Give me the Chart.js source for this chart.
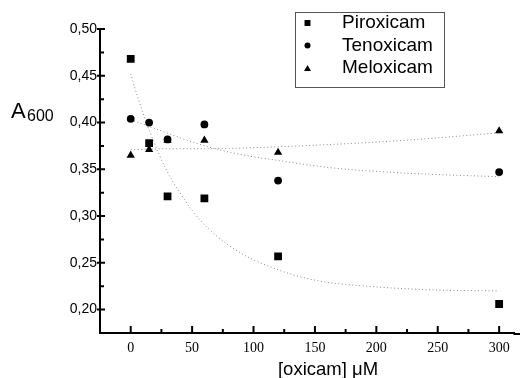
<!DOCTYPE html>
<html>
<head>
<meta charset="utf-8">
<script src="https://cdn.jsdelivr.net/npm/chart.js@4.4.0/dist/chart.umd.min.js"></script>
<style>
html, body { margin: 0; padding: 0; background: #fff; overflow: hidden; }
</style>
</head>
<body>
<canvas id="chart" width="520" height="378"></canvas>
<script>
// measured points
const conc = [0, 15, 30, 60, 120, 300];
const piroxicam = [0.468, 0.378, 0.321, 0.319, 0.257, 0.206];
const tenoxicam = [0.404, 0.400, 0.382, 0.398, 0.338, 0.347];
const meloxicam = [0.365, 0.371, 0.381, 0.381, 0.368, 0.391];

// dotted fit curves
const piroxFitX = [0, 7, 15, 28, 40, 57, 84, 117, 152, 193, 247, 300];
const piroxFitY = [0.452, 0.422, 0.392, 0.352, 0.325, 0.295, 0.265, 0.244, 0.231, 0.225, 0.221, 0.220];
const tenoxFitX = [0, 23, 53, 85, 117, 168, 223, 300];
const tenoxFitY = [0.403, 0.392, 0.378, 0.367, 0.360, 0.351, 0.346, 0.342];
const meloxFitX = [0, 30, 60, 118, 170, 223, 300];
const meloxFitY = [0.371, 0.372, 0.372, 0.374, 0.377, 0.381, 0.389];

const xTicks = [0, 50, 100, 150, 200, 250, 300];
const xMinor = [25, 75, 125, 175, 225, 275];
const yTicks = [0.20, 0.25, 0.30, 0.35, 0.40, 0.45, 0.50];
const yMinor = [0.225, 0.275, 0.325, 0.375, 0.425, 0.475];

const pts = (xs, ys) => xs.map((v, i) => ({ x: v, y: ys[i] }));

function markers(label, ys, style, radius, legendRadius) {
    return {
        label: label,
        data: pts(conc, ys),
        pointStyle: style,
        pointRadius: radius,
        pointBackgroundColor: '#000',
        pointBorderWidth: 0,
        legendRadius: legendRadius,
        order: 1
    };
}

function fit(xs, ys) {
    return {
        data: pts(xs, ys),
        showLine: true,
        borderColor: '#8a8a8a',
        borderWidth: 1,
        borderDash: [1, 2.5],
        cubicInterpolationMode: 'monotone',
        pointRadius: 0,
        order: 2
    };
}

const extras = {
    id: 'extras',
    afterDraw(chart) {
        const { ctx, chartArea, scales: { x, y } } = chart;
        ctx.save();
        ctx.strokeStyle = '#000';
        ctx.lineWidth = 2;
        ctx.beginPath();
        // axis line runs on to the edge of the picture
        ctx.moveTo(chartArea.right - 1, chartArea.bottom + 1); ctx.lineTo(chart.width, chartArea.bottom + 1);
        xTicks.forEach(v => {
            const px = x.getPixelForValue(v);
            ctx.moveTo(px, chartArea.bottom); ctx.lineTo(px, chartArea.bottom - 7);
        });
        xMinor.forEach(v => {
            const px = x.getPixelForValue(v);
            ctx.moveTo(px, chartArea.bottom); ctx.lineTo(px, chartArea.bottom - 4);
        });
        yTicks.forEach(v => {
            const py = y.getPixelForValue(v);
            ctx.moveTo(chartArea.left - 3, py); ctx.lineTo(chartArea.left + 5, py);
        });
        yMinor.forEach(v => {
            const py = y.getPixelForValue(v);
            ctx.moveTo(chartArea.left, py); ctx.lineTo(chartArea.left + 4, py);
        });
        ctx.stroke();

        // legend box
        ctx.lineWidth = 1;
        ctx.strokeStyle = '#555';
        ctx.strokeRect(295.5, 12.5, 149, 75);
        const rows = [23, 45.5, 68];
        const sets = chart.data.datasets.filter(d => d.label);
        ctx.font = '19px "Liberation Sans", Arial, sans-serif';
        ctx.textBaseline = 'middle';
        ctx.textAlign = 'left';
        sets.forEach((d, i) => {
            ctx.fillStyle = '#000';
            Chart.helpers.drawPoint(ctx, { pointStyle: d.pointStyle, radius: d.legendRadius, rotation: 0, borderWidth: 0 }, 307.5, rows[i] + (d.pointStyle === 'triangle' ? 1 : 0));
            ctx.fillText(d.label, 342, rows[i]);
        });

        // axis titles
        ctx.textBaseline = 'alphabetic';
        ctx.font = '22px "Liberation Sans", Arial, sans-serif';
        ctx.fillText('A', 11, 118);
        ctx.font = '16px "Liberation Sans", Arial, sans-serif';
        ctx.fillText('600', 27, 121);
        ctx.font = '18.5px "Liberation Sans", Arial, sans-serif';
        ctx.textAlign = 'center';
        ctx.fillText('[oxicam] \u03bcM', 328, 375);
        ctx.restore();
    }
};

new Chart(document.getElementById('chart').getContext('2d'), {
    type: 'scatter',
    data: {
        datasets: [
            markers('Piroxicam', piroxicam, 'rect', 5.5, 4.2),
            markers('Tenoxicam', tenoxicam, 'circle', 3.9, 3),
            markers('Meloxicam', meloxicam, 'triangle', 4.8, 4),
            fit(piroxFitX, piroxFitY),
            fit(tenoxFitX, tenoxFitY),
            fit(meloxFitX, meloxFitY)
        ]
    },
    options: {
        responsive: false,
        animation: false,
        events: [],
        layout: { padding: { top: 29, right: 0, bottom: 0, left: 0 } },
        plugins: { legend: { display: false }, tooltip: { enabled: false } },
        scales: {
            x: {
                type: 'linear',
                min: -25,
                max: 312.5,
                afterFit: s => { s.height = 45; },
                afterBuildTicks: s => { s.ticks = xTicks.map(v => ({ value: v })); },
                grid: { display: false, drawTicks: false },
                border: { display: true, color: '#000', width: 2 },
                ticks: {
                    color: '#000',
                    padding: 7,
                    maxRotation: 0,
                    autoSkip: false,
                    font: { family: '"Liberation Serif", "Times New Roman", serif', size: 14 }
                }
            },
            y: {
                min: 0.175,
                max: 0.50,
                afterFit: s => { s.width = 100; },
                afterBuildTicks: s => { s.ticks = yTicks.map(v => ({ value: v })); },
                grid: { display: false, drawTicks: false },
                border: { display: true, color: '#000', width: 2 },
                ticks: {
                    color: '#000',
                    padding: 3,
                    font: { family: '"Liberation Sans", Arial, sans-serif', size: 14 },
                    callback: v => v.toFixed(2).replace('.', ',')
                }
            }
        }
    },
    plugins: [extras]
});
</script>
</body>
</html>
